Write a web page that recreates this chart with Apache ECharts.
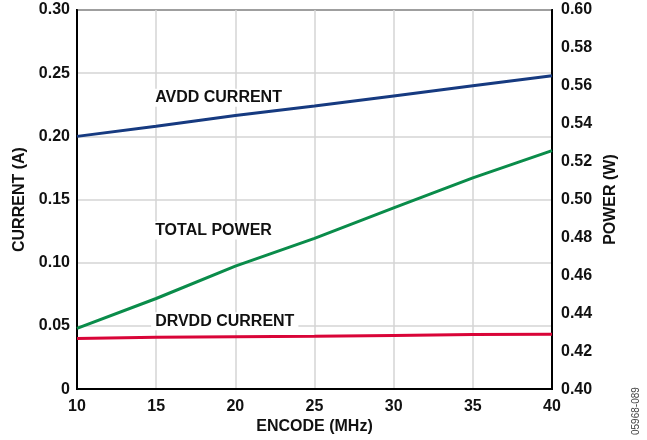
<!DOCTYPE html>
<html>
<head>
  <meta charset="utf-8">
  <title>Current and Power vs Encode</title>
  <script src="https://cdn.jsdelivr.net/npm/echarts@6/dist/echarts.min.js"></script>
</head>
<body style="margin:0">
  <div id="main" style="width:647px;height:440px"></div>
  <script type="text/javascript">
    var encode = [10, 15, 20, 25, 30, 35, 40];
    var avddCurrent = [0.200, 0.208, 0.2165, 0.224, 0.232, 0.240, 0.248];
    var drvddCurrent = [0.040, 0.041, 0.0415, 0.0418, 0.0425, 0.0432, 0.0434];
    var totalPower = [0.432, 0.4478, 0.4649, 0.4795, 0.4956, 0.5114, 0.5258];

    function pairs(xs, ys) {
      return xs.map(function (x, i) { return [x, ys[i]]; });
    }

    var font = 'Liberation Sans, Arial, sans-serif';
    var labelStyle = { fontFamily: font, fontWeight: 'bold', fontSize: 16, color: '#111' };

    var myChart = echarts.init(document.getElementById('main'));

    var option = {
      animation: false,
      grid: { left: 77, right: 95, top: 10, bottom: 50, show: true, borderColor: '#000', borderWidth: 2 },
      xAxis: {
        type: 'value', min: 10, max: 40, interval: 5,
        name: 'ENCODE (MHz)', nameLocation: 'middle', nameGap: 29,
        nameTextStyle: labelStyle,
        axisLine: { lineStyle: { color: '#000', width: 2 } },
        axisTick: { show: false },
        axisLabel: Object.assign({ margin: 9 }, labelStyle),
        splitLine: { lineStyle: { color: '#d4d4d4', width: 1.5 } }
      },
      yAxis: [{
        type: 'value', min: 0, max: 0.3, interval: 0.05,
        name: 'CURRENT (A)', nameLocation: 'middle', nameGap: 49, nameRotate: 90,
        nameTextStyle: labelStyle,
        axisLine: { show: true, lineStyle: { color: '#000', width: 2 } },
        axisTick: { show: false },
        axisLabel: Object.assign({ margin: 7, formatter: function (v) { return v === 0 ? '0' : v.toFixed(2); } }, labelStyle),
        splitLine: { lineStyle: { color: '#d4d4d4', width: 1.5 } }
      }, {
        type: 'value', min: 0.4, max: 0.6, interval: 0.02, position: 'right',
        name: 'POWER (W)', nameLocation: 'middle', nameGap: 50, nameRotate: 90,
        nameTextStyle: labelStyle,
        axisLine: { show: true, lineStyle: { color: '#000', width: 2 } },
        axisTick: { show: false },
        axisLabel: Object.assign({ margin: 9, formatter: function (v) { return v.toFixed(2); } }, labelStyle),
        splitLine: { show: false }
      }],
      series: [{
        name: 'AVDD CURRENT', type: 'line', yAxisIndex: 0, showSymbol: false, z: 3,
        data: pairs(encode, avddCurrent),
        lineStyle: { color: '#163a80', width: 3 }, itemStyle: { color: '#163a80' },
        markPoint: {
          symbol: 'circle', symbolSize: 1, itemStyle: { color: 'rgba(0,0,0,0)' },
          label: Object.assign({ show: true, position: 'right', distance: 0, formatter: '{b}',
            backgroundColor: '#fff', padding: [1, 4, 1, 4] }, labelStyle),
          data: [
            { name: 'AVDD CURRENT', coord: [14.65, 0.2305] },
            { name: 'TOTAL POWER', coord: [14.65, 0.1255] },
            { name: 'DRVDD CURRENT', coord: [14.65, 0.0537] }
          ]
        }
      }, {
        name: 'DRVDD CURRENT', type: 'line', yAxisIndex: 0, showSymbol: false,
        data: pairs(encode, drvddCurrent),
        lineStyle: { color: '#d90538', width: 3 }, itemStyle: { color: '#d90538' }
      }, {
        name: 'TOTAL POWER', type: 'line', yAxisIndex: 1, showSymbol: false,
        data: pairs(encode, totalPower),
        lineStyle: { color: '#0a8c4a', width: 3 }, itemStyle: { color: '#0a8c4a' }
      }],
      graphic: [{
        type: 'text', right: 6, bottom: 5, rotation: Math.PI / 2,
        style: { text: '05968-089', fontFamily: font, fontSize: 10, fill: '#444' }
      }]
    };

    myChart.setOption(option);
  </script>
</body>
</html>
